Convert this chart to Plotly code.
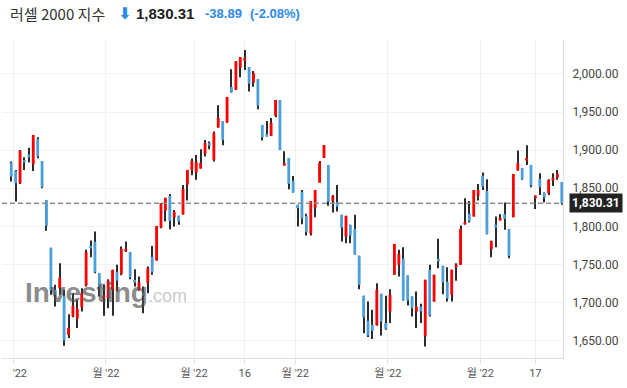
import pandas as pd
import plotly.graph_objects as go

# ---- data (Russell 2000 daily, 2022-05-31 .. 2022-11-28) ----
opens = [1883.7, 1872.7, 1856.6, 1887.2, 1894.2, 1881.5, 1914.7, 1885.8, 1834.7, 1771.8,
         1716.7, 1718.9, 1708.9, 1657.7, 1681.8, 1679.1, 1694.0, 1722.4, 1774.4, 1779.7,
         1738.6, 1705.8, 1705.8, 1716.7, 1739.9, 1737.3, 1767.4, 1766.1, 1729.8, 1715.9,
         1713.2, 1725.5, 1760.0, 1755.2, 1798.5, 1820.3, 1840.4, 1811.6, 1813.8, 1815.5,
         1854.8, 1874.1, 1870.6, 1875.8, 1895.5, 1909.5, 1887.2, 1929.6, 1938.3, 1936.1,
         1982.9, 1979.0, 2008.2, 2017.4, 2009.1, 1988.6, 1993.4, 1933.1, 1921.3, 1918.6,
         1944.9, 1965.8, 1879.7, 1889.8, 1859.6, 1828.2, 1845.2, 1813.8, 1790.2, 1824.7,
         1857.5, 1889.8, 1880.6, 1833.4, 1831.7, 1815.1, 1786.7, 1802.0, 1796.7, 1761.3,
         1708.9, 1676.1, 1670.9, 1670.0, 1711.5, 1673.1, 1688.3, 1736.4, 1749.5, 1757.4,
         1735.5, 1708.0, 1688.3, 1694.5, 1655.6, 1743.0, 1701.4, 1757.4, 1748.2, 1727.2,
         1710.2, 1746.0, 1749.5, 1802.4, 1816.4, 1812.9, 1840.4, 1866.2, 1846.5, 1770.0,
         1802.0, 1807.6, 1815.9, 1796.7, 1812.0, 1873.2, 1876.7, 1886.3, 1880.6, 1836.9,
         1862.3, 1844.3, 1843.5, 1860.1, 1864.0, 1858.3]
highs = [1885.0, 1874.0, 1900.3, 1890.7, 1903.3, 1919.9, 1916.9, 1885.8, 1834.7, 1771.8,
         1723.3, 1751.7, 1716.7, 1684.8, 1712.4, 1703.6, 1718.9, 1769.2, 1781.4, 1793.2,
         1738.6, 1724.2, 1730.7, 1743.0, 1749.5, 1773.5, 1780.1, 1766.1, 1743.8, 1734.2,
         1721.1, 1747.3, 1774.4, 1800.6, 1830.4, 1837.4, 1842.6, 1821.6, 1813.8, 1854.4,
         1874.1, 1888.9, 1893.7, 1901.2, 1913.4, 1911.2, 1924.3, 1958.9, 1938.3, 1969.8,
         2006.0, 2016.5, 2022.2, 2031.4, 2009.1, 2003.9, 1993.4, 1933.1, 1938.3, 1942.2,
         1965.8, 1965.8, 1898.5, 1889.8, 1866.2, 1828.2, 1847.8, 1816.4, 1833.4, 1847.8,
         1885.9, 1906.8, 1880.6, 1841.3, 1854.4, 1815.1, 1813.8, 1802.0, 1815.1, 1761.3,
         1708.9, 1701.4, 1690.5, 1725.5, 1711.5, 1708.9, 1717.6, 1777.0, 1769.2, 1772.7,
         1735.5, 1708.0, 1714.6, 1698.4, 1729.9, 1749.5, 1736.4, 1783.6, 1748.2, 1746.5,
         1743.0, 1751.7, 1801.1, 1836.9, 1833.4, 1847.8, 1855.7, 1870.6, 1861.8, 1781.0,
         1812.9, 1815.9, 1831.2, 1796.7, 1868.8, 1899.4, 1876.7, 1906.4, 1880.6, 1840.4,
         1869.7, 1844.3, 1861.8, 1869.7, 1874.1, 1858.3]
lows = [1858.8, 1832.5, 1855.7, 1874.0, 1883.7, 1872.7, 1889.3, 1850.0, 1794.1, 1710.2,
        1694.9, 1710.2, 1643.3, 1653.4, 1680.9, 1666.5, 1688.3, 1721.1, 1759.6, 1738.6,
        1708.0, 1682.6, 1692.7, 1682.6, 1714.5, 1736.0, 1766.5, 1730.7, 1721.1, 1715.4,
        1686.1, 1712.4, 1736.4, 1755.2, 1797.6, 1806.3, 1796.3, 1799.8, 1802.0, 1815.5,
        1833.9, 1867.1, 1861.0, 1875.8, 1891.6, 1901.2, 1885.0, 1929.6, 1906.4, 1936.1,
        1975.5, 1979.0, 1995.6, 2005.2, 1976.8, 1983.3, 1953.6, 1912.5, 1917.8, 1918.6,
        1943.1, 1900.3, 1879.7, 1848.7, 1844.4, 1799.8, 1802.8, 1788.0, 1788.0, 1812.0,
        1857.5, 1889.8, 1826.9, 1818.1, 1819.4, 1780.1, 1777.9, 1777.9, 1763.1, 1717.6,
        1659.9, 1654.7, 1652.1, 1670.0, 1656.9, 1664.3, 1673.1, 1736.4, 1734.2, 1702.8,
        1696.2, 1681.8, 1666.5, 1673.1, 1642.5, 1681.8, 1701.4, 1745.1, 1711.1, 1701.4,
        1701.4, 1728.5, 1749.5, 1802.4, 1805.0, 1812.9, 1833.9, 1847.8, 1789.7, 1759.6,
        1772.7, 1807.6, 1795.4, 1758.3, 1812.0, 1873.2, 1861.0, 1880.6, 1851.3, 1822.9,
        1841.3, 1831.2, 1841.3, 1853.1, 1861.0, 1828.2]
closes = [1865.3, 1856.6, 1899.0, 1883.7, 1890.7, 1919.9, 1891.5, 1851.3, 1800.6, 1715.9,
          1710.2, 1732.5, 1650.3, 1666.9, 1695.8, 1691.8, 1712.4, 1766.1, 1770.9, 1739.9,
          1721.1, 1708.9, 1728.5, 1743.0, 1729.0, 1770.5, 1770.5, 1732.9, 1726.3, 1727.2,
          1708.9, 1745.1, 1739.5, 1800.6, 1830.4, 1837.4, 1807.2, 1819.0, 1806.3, 1849.2,
          1874.1, 1885.9, 1884.1, 1883.2, 1909.5, 1906.0, 1922.6, 1942.2, 1913.4, 1969.8,
          1975.5, 2016.5, 2022.2, 2020.9, 1987.3, 2001.2, 1958.4, 1916.5, 1917.8, 1935.7,
          1965.8, 1900.3, 1883.2, 1855.7, 1844.4, 1823.8, 1810.3, 1792.8, 1833.4, 1847.8,
          1883.7, 1906.8, 1832.5, 1840.0, 1826.0, 1798.5, 1813.8, 1788.0, 1763.1, 1723.3,
          1680.5, 1656.9, 1663.0, 1716.7, 1675.2, 1665.6, 1710.2, 1777.0, 1763.9, 1702.8,
          1702.8, 1692.7, 1694.5, 1688.3, 1729.9, 1683.1, 1736.4, 1753.9, 1726.4, 1705.4,
          1743.0, 1749.5, 1796.7, 1805.9, 1806.8, 1847.8, 1847.8, 1852.2, 1789.7, 1781.0,
          1798.5, 1811.1, 1809.8, 1761.3, 1868.8, 1882.8, 1861.8, 1889.8, 1853.5, 1840.4,
          1851.3, 1837.8, 1861.0, 1863.6, 1869.2, 1830.31]

last_close = 1830.31
change = -38.89
change_pct = -2.08
title_name = "러셀 2000 지수"

holidays = ["2022-06-20", "2022-07-04", "2022-09-05", "2022-11-24"]
dates = [d for d in pd.bdate_range("2022-05-31", "2022-11-28")
         if d.strftime("%Y-%m-%d") not in holidays]

# tick marks: month starts (label "월 '22") and two day marks
month_label = "월 '22"
day_ticks = ["2022-08-16", "2022-11-17"]

UP = "#ff0000"
DOWN = "#4c9fda"
WICK = "#2b2b2b"

n = len(closes)
idx = list(range(n))

wick_len = [h - l for h, l in zip(highs, lows)]
bases = [min(o, c) for o, c in zip(opens, closes)]
heights = [abs(c - o) for o, c in zip(opens, closes)]
colors = [UP if c >= o else DOWN for o, c in zip(opens, closes)]

# tick values
tickvals, ticktext = [], []
prev_month = None
for i, d in enumerate(dates):
    if prev_month is not None and d.month != prev_month:
        tickvals.append(i - 0.5)
        ticktext.append(month_label)
    prev_month = d.month
    if d.strftime("%Y-%m-%d") in day_ticks:
        tickvals.append(i)
        ticktext.append(str(d.day))
# first label is partly cut off at the left edge in the original
ticktext[0] = "<span style='color:rgba(0,0,0,0)'>월 </span>'22"

fig = go.Figure()
# wicks (thin bars, drawn first)
fig.add_trace(go.Bar(x=idx, y=wick_len, base=lows, width=0.23,
                     marker=dict(color=WICK, line=dict(width=0)), hoverinfo="skip"))
# bodies
fig.add_trace(go.Bar(x=idx, y=heights, base=bases, width=0.64,
                     marker=dict(color=colors, line=dict(width=0))))

fig.add_shape(type="line", xref="paper", x0=0, x1=1, yref="y",
              y0=last_close, y1=last_close,
              line=dict(color="#8c8c8c", width=1.6, dash="5px,3px"), layer="above")

fig.update_layout(
    width=627, height=388,
    margin=dict(l=0, r=64, t=40, b=30),
    paper_bgcolor="white", plot_bgcolor="white",
    showlegend=False, barmode="overlay",
    font=dict(family="Roboto, 'Noto Sans CJK KR', sans-serif", size=12, color="#333"),
    xaxis=dict(range=[-2.1, n - 0.73], tickvals=tickvals, ticktext=ticktext,
               showgrid=True, gridcolor="#f1f1f1", gridwidth=1,
               showline=True, linecolor="#dedede", linewidth=1,
               ticks="outside", ticklen=5, tickcolor="#dedede",
               ticklabeloverflow="allow",
               tickfont=dict(size=11, color="#555"), zeroline=False, fixedrange=True),
    yaxis=dict(side="right", range=[1627.3, 2044.5], tick0=1650, dtick=50,
               tickformat=",.2f", showgrid=True, gridcolor="#f1f1f1", gridwidth=1,
               showline=True, linecolor="#dedede", linewidth=1,
               ticks="outside", ticklen=6, tickcolor="rgba(0,0,0,0)",
               tickfont=dict(size=12, color="#444"), zeroline=False),
)

# header
ann_y = dict(yref="paper", y=1, yanchor="middle", yshift=27, xref="paper", x=0,
             xanchor="left", showarrow=False)
fig.add_annotation(text=title_name, xshift=6,
                   font=dict(family="'Noto Sans CJK KR', sans-serif", size=15, color="#333"),
                   **ann_y)
fig.add_annotation(text="<b>⬇</b>", xshift=114,
                   font=dict(family="DejaVu Sans", size=16, color="#2d8ae6"), **ann_y)
fig.add_annotation(text="<b>" + f"{last_close:,.2f}" + "</b>", xshift=132,
                   font=dict(family="Liberation Sans, Arial", size=15, color="#222"), **ann_y)
fig.add_annotation(text="<b>" + f"{change:,.2f}" + "</b>", xshift=201,
                   font=dict(family="Liberation Sans, Arial", size=13, color="#2d8ae6"), **ann_y)
fig.add_annotation(text="<b>" + f"({change_pct:.2f}%)" + "</b>", xshift=246,
                   font=dict(family="Liberation Sans, Arial", size=13, color="#2d8ae6"), **ann_y)

# last price tag
fig.add_annotation(xref="paper", x=1, xanchor="left", xshift=6, yref="y", y=last_close,
                   yanchor="middle", text="<b>" + f"{last_close:,.2f}" + "</b>",
                   showarrow=False, bgcolor="#222222", borderpad=2,
                   font=dict(family="Roboto", size=12, color="white"))

# watermark
fig.add_annotation(xref="paper", x=21 / 563, xanchor="left", yref="paper",
                   y=(358 - 292) / 318, yanchor="middle", showarrow=False,
                   text="<b>Investing</b><span style='font-size:18px;font-weight:normal;color:rgba(120,120,120,0.6)'>.com</span>",
                   font=dict(family="Liberation Sans, Arial", size=28, color="rgba(80,80,80,0.68)"))

fig.write_html("out.html", config={"displayModeBar": False},
               post_script="document.body.style.margin='0';document.body.style.padding='0';")
